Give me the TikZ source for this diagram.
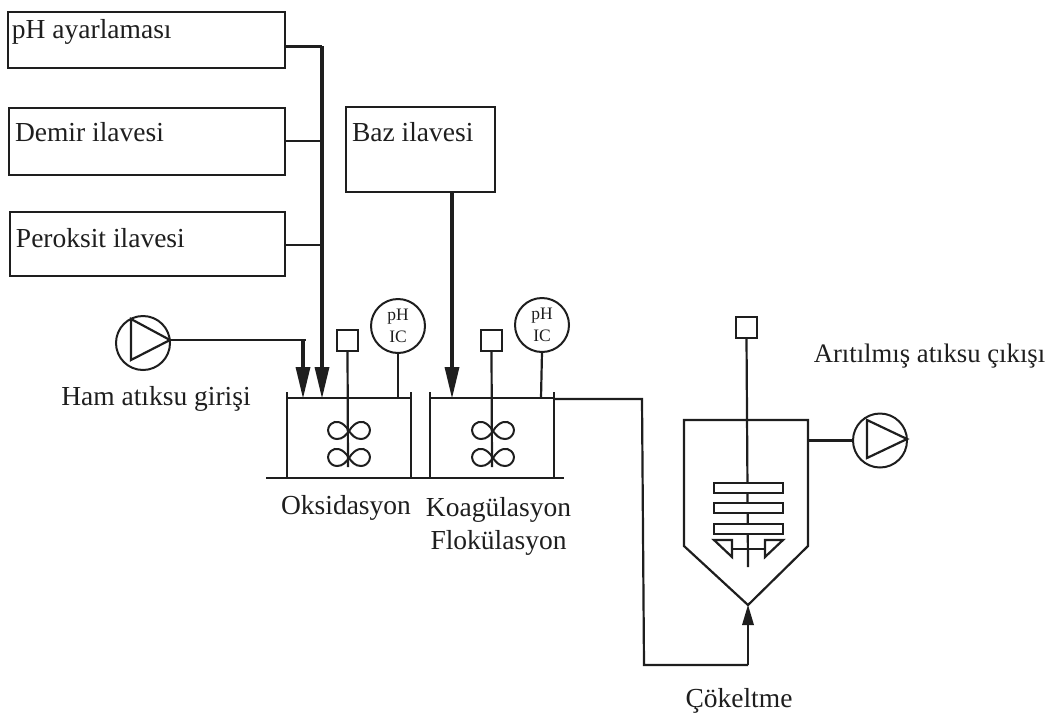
\documentclass[tikz,border=0pt]{standalone}
\usepackage{fontspec}
\setmainfont{Liberation Serif}
\usetikzlibrary{arrows.meta,calc}
\definecolor{ink}{HTML}{1E1E1E}
\tikzset{
  x=1pt,y=-1pt,
  every node/.style={text=ink,inner sep=0pt,outer sep=0pt},
  procbox/.style={draw=ink,rectangle,line width=2pt},
  lab/.style={font=\fontsize{27.5}{33}\selectfont},
  lablft/.style={lab,anchor=west},
  sqbox/.style={draw=ink,rectangle,minimum width=21pt,minimum height=21pt,line width=2pt},
  ctrl/.style={draw=ink,circle,minimum size=54pt,line width=2pt,align=center,font=\fontsize{17.5}{22}\selectfont},
  pumpc/.style={draw=ink,circle,minimum size=54pt,line width=2pt},
  flow/.style={draw=ink,line width=3.6pt,-{Triangle[length=31pt,width=15pt,line width=0pt]}},
  flowb/.style={draw=ink,line width=3pt},
  pipe/.style={draw=ink,line width=2.2pt},
  stub/.style={draw=ink,line width=1.5pt},
  lobe/.style={draw=ink,line width=2pt},
  paddle/.style={draw=ink,rectangle,minimum width=69pt,minimum height=10pt,line width=2pt},
}
\newcommand{\halflobe}[3]{% centre x, y, side
  \draw[lobe] (#1,#2+1) .. controls (#1+#3*6,#2-9) and (#1+#3*14,#2-10) .. (#1+#3*18,#2-6)
    .. controls (#1+#3*24,#2-1) and (#1+#3*20,#2+9) .. (#1+#3*12,#2+9)
    .. controls (#1+#3*6,#2+9) and (#1+#3*3,#2+5) .. (#1,#2+1);}
\newcommand{\impeller}[2]{\halflobe{#1}{#2}{-1}\halflobe{#1}{#2}{1}}
\begin{document}
\begin{tikzpicture}
\useasboundingbox (0,0) rectangle (1057,718);
% feed boxes
\node[procbox,minimum width=277pt,minimum height=56pt] (ph) at (146.5,40) {};
\node[procbox,minimum width=276pt,minimum height=67pt] (fe) at (147,141.5) {};
\node[procbox,minimum width=275pt,minimum height=64pt] (per) at (147.5,244) {};
\node[procbox,minimum width=149pt,minimum height=85pt] (baz) at (420.5,149.5) {};
\node[lablft] (tph) at (12,32) {pH ayarlaması};
\node[lablft] (tfe) at (15,132) {Demir ilavesi};
\node[lablft] (tper) at (16,238) {Peroksit ilavesi};
\node[lablft] (tbaz) at (352,132) {Baz ilavesi};
% tanks
\coordinate (t1a) at (287,392); \coordinate (t1b) at (287,477);
\coordinate (t1c) at (411,392); \coordinate (t1d) at (411,477);
\coordinate (t2a) at (430,392); \coordinate (t2b) at (430,477);
\coordinate (t2c) at (554,392); \coordinate (t2d) at (554,477);
\draw[pipe] (t1a) -- (t1b); \draw[pipe] (t1c) -- (t1d);
\draw[pipe] (t2a) -- (t2b); \draw[pipe] (t2c) -- (t2d);
\coordinate (t1l) at (287,398); \coordinate (t1r) at (411,398);
\coordinate (t2l) at (430,398); \coordinate (t2r) at (554,398);
\draw[pipe] (t1l) -- (t1r); \draw[pipe] (t2l) -- (t2r);
\coordinate (g1) at (266,478); \coordinate (g2) at (564,478);
\draw[draw=ink,line width=2.6pt] (g1) -- (g2);
% reagent lines
\coordinate (jh) at (322,46); \coordinate (j2) at (322,141); \coordinate (j3) at (322,245);
\coordinate (in1) at (322,398); \coordinate (in2) at (303,398);
\draw[flowb] (ph.east |- jh) -- (jh);
\draw[stub] (fe.east |- j2) -- (j2);
\draw[stub] (per.east |- j3) -- (j3);
\draw[flow] (jh) -- (in1);
\draw[flow] (baz.south -| 452,0) -- (452,398);
% pumps
\node[pumpc] (p1) at (143,343) {};
\node[pumpc] (p2) at (880,440.5) {};
\coordinate (p1t) at (170,340);
\coordinate (p2t) at (907,439);
\draw[pipe] (131,319) -- (131,360) -- (p1t) -- cycle;
\draw[pipe] (867,420) -- (867,458) -- (p2t) -- cycle;
\coordinate (p1k) at (306,340);
\draw[pipe] (p1t) -- (p1k);
\draw[draw=ink,line width=3.2pt,-{Triangle[length=31pt,width=15pt,line width=0pt]}] (303,340) -- (in2);
% agitators, controllers
\node[sqbox] (s1) at (347.5,340) {};
\node[sqbox] (s2) at (491.5,340.5) {};
\node[sqbox] (s3) at (746.5,327.5) {};
\node[ctrl] (c1) at (398,326) {pH\\IC};
\node[ctrl] (c2) at (542,325) {pH\\IC};
\coordinate (i1) at (348,467); \coordinate (i2) at (492,467);
\draw[pipe] (s1.south) -- (i1);
\draw[pipe] (s2.south) -- (i2);
\draw[pipe] (c1.south) -- (398,398);
\draw[pipe] (c2.south) -- (541,398);
\impeller{349}{430}\impeller{349}{457}
\impeller{493}{430}\impeller{493}{457}
% settler
\coordinate (sa) at (684,420); \coordinate (sb) at (808,420);
\coordinate (sc) at (808,546); \coordinate (sd) at (748,605); \coordinate (se) at (684,546);
\draw[pipe] (sa) -- (sb) -- (sc) -- (sd) -- (se) -- cycle;
\draw[pipe] (s3.south) -- (748,567);
\node[paddle,fill=white] (pd1) at (748,488) {};
\node[paddle,fill=white] (pd2) at (748,508) {};
\node[paddle,fill=white] (pd3) at (748,529) {};
\draw[pipe] (714,540) -- (732,540) -- (732,557) -- cycle;
\draw[pipe] (783,540) -- (765,540) -- (765,557) -- cycle;
\coordinate (bl) at (732,549); \coordinate (br) at (765,549);
\draw[pipe] (bl) -- (br);
\draw[pipe] (sb |- p2) -- (p2.west);
% recycle
\coordinate (r1) at (554,399); \coordinate (r2) at (642,399);
\coordinate (r3) at (644,665); \coordinate (r4) at (748,665);
\draw[pipe] (r1) -- (r2) -- (r3) -- (r4);
\draw[pipe,-{Triangle[length=20pt,width=12pt,line width=0pt]}] (r4) -- (sd);
% labels
\node[lab] (l1) at (156,398.5) {Ham atıksu girişi};
\node[lab] (l2) at (346,508) {Oksidasyon};
\node[lab] (l3) at (498.5,510) {Koagülasyon};
\node[lab] (l4) at (498.5,543) {Flokülasyon};
\node[lab] (l5) at (739,701) {Çökeltme};
\node[lab,font=\fontsize{26.7}{32}\selectfont] (l6) at (929.5,356) {Arıtılmış atıksu çıkışı};
\end{tikzpicture}
\end{document}
